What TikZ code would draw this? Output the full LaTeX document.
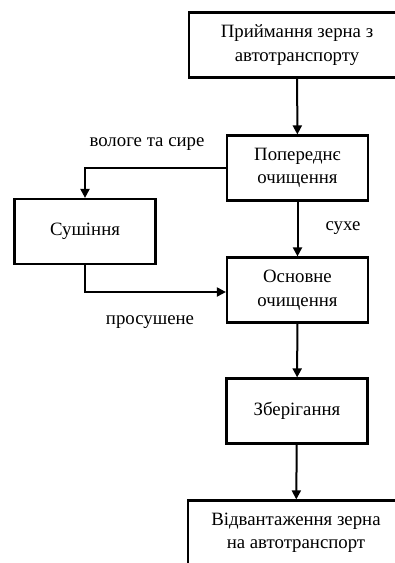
\documentclass[tikz,border=0pt]{standalone}
\usepackage{fontspec}
\setmainfont{Liberation Serif}
\usetikzlibrary{arrows.meta}
\tikzset{
  etap/.style={draw, line width=2.2pt, minimum width=141pt, minimum height=65pt, align=center, inner sep=2pt, font=\fontsize{18.8}{23.5}\selectfont},
  shyrokyi/.style={etap, minimum width=216pt},
  potik/.style={line width=2pt, -{Triangle[length=9pt,width=9pt]}},
  pidpys/.style={font=\fontsize{18.8}{23.5}\selectfont}
}
\begin{document}
\begin{tikzpicture}[x=1pt,y=-1pt]
        \clip (0,0) rectangle (395,563);
        \node[shyrokyi] (pryim) at (297,45) {Приймання зерна з\\автотранспорту};
        \node[etap] (poper) at (297.5,168) {Попереднє\\очищення};
        \node[etap] (sush) at (85,231.5) {Сушіння};
        \node[etap] (osn) at (297.5,290) {Основне\\очищення};
        \node[etap] (zber) at (297,411) {Зберігання};
        \node[shyrokyi] (vidv) at (296,533) {Відвантаження зерна\\на автотранспорт};
        \draw[potik] (pryim) -- (poper);
        \draw[potik] (poper.west) -| (sush.north);
        \draw[potik] (sush.south) |- ([yshift=-2pt]osn.west);
        \draw[potik] (poper) -- (osn);
        \draw[potik] (osn) -- (zber);
        \draw[potik] (zber) -- (vidv);
        \node[pidpys] (vologe) at (147,144) {вологе та сире};
        \node[pidpys] (sukhe) at (343,228) {сухе};
        \node[pidpys] (prosush) at (150,322) {просушене};
\end{tikzpicture}
\end{document}
